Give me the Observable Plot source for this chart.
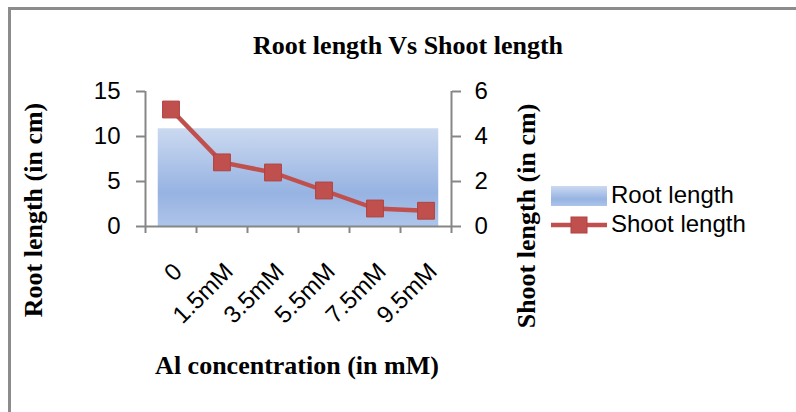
<!DOCTYPE html>
<html>
<head>
<meta charset="utf-8">
<script src="https://cdn.jsdelivr.net/npm/d3@7"></script>
<script src="https://cdn.jsdelivr.net/npm/@observablehq/plot@0.6"></script>
<style>
  html, body { margin: 0; padding: 0; background: #fff; }
  #wrap { position: relative; width: 796px; height: 412px; overflow: hidden; background: #fff; }
  #wrap svg { position: absolute; left: 0; top: 0; }
  .frame { position: absolute; left: 8px; top: 7px; right: -20px; bottom: -20px;
           border-top: 3px solid #8c8c8c; border-left: 3px solid #8c8c8c; pointer-events: none; }
  .serif { position: absolute; font-family: "Liberation Serif", "Times New Roman", serif; font-weight: bold;
           font-size: 26px; color: #000; white-space: nowrap; line-height: 1; }
  .legend { position: absolute; font-family: "Liberation Sans", Arial, sans-serif; font-size: 24px; color: #000;
            white-space: nowrap; line-height: 1; }
</style>
</head>
<body>
<div id="wrap">
  <div id="chart"></div>
  <div class="frame"></div>
</div>
<script>
// ---- data ----
const categories = ["0", "1.5mM", "3.5mM", "5.5mM", "7.5mM", "9.5mM"];
const rootLength = [10.85, 10.85, 10.85, 10.85, 10.85, 10.85];
const shootLength = [5.2, 2.85, 2.4, 1.6, 0.8, 0.7];
const leftTicks = [0, 5, 10, 15];
const rightTicks = [0, 2, 4, 6];
const title = "Root length Vs Shoot length";
const xTitle = "Al concentration (in mM)";
const yTitleLeft = "Root length (in cm)";
const yTitleRight = "Shoot length (in cm)";
const seriesNames = ["Root length", "Shoot length"];

const ratio = 15 / 6; // right axis -> left axis scale
const idx = categories.map((_, i) => i);
const bounds = d3.range(-0.5, categories.length, 1);
const areaData = [
  {x: -0.25, y: rootLength[0]},
  ...rootLength.map((v, i) => ({x: i, y: v})),
  {x: categories.length - 0.75, y: rootLength[rootLength.length - 1]}
];

const axisColor = "#868686";
const lineColor = "#c0504d";

const plot = Plot.plot({
  width: 796,
  height: 412,
  marginLeft: 145,
  marginRight: 345,
  marginTop: 91,
  marginBottom: 186,
  style: {background: "transparent", fontFamily: "Liberation Sans, Arial, sans-serif", fontSize: "24px", color: "#000", overflow: "visible"},
  x: {domain: [-0.5, categories.length - 0.5], axis: null},
  y: {domain: [0, 15], axis: null},
  marks: [
    Plot.areaY(areaData, {x: "x", y: "y", fill: "url(#rootGrad)"}),
    Plot.ruleY([0], {stroke: axisColor, strokeWidth: 2}),
    Plot.ruleX([-0.5, categories.length - 0.5], {y1: 0, y2: 15, stroke: axisColor, strokeWidth: 2}),
    Plot.axisX(bounds, {anchor: "bottom", tickSize: 7, tickFormat: () => "", stroke: axisColor, strokeWidth: 2, label: null}),
    Plot.axisY(leftTicks, {anchor: "left", tickSize: 9, tickPadding: 16, stroke: axisColor, strokeWidth: 2, fill: "#000", fontSize: 24, label: null}),
    Plot.axisY(rightTicks.map(v => v * ratio), {anchor: "right", tickSize: 9, tickPadding: 14, tickFormat: d => String(Math.round(d / ratio)), stroke: axisColor, strokeWidth: 2, fill: "#000", fontSize: 24, label: null}),
    Plot.line(idx, {x: i => i, y: i => shootLength[i] * ratio, stroke: lineColor, strokeWidth: 4.5}),
    Plot.dot(idx, {x: i => i, y: i => shootLength[i] * ratio, symbol: "square", r: 9.5, fill: lineColor, stroke: "#b0423f", strokeWidth: 1}),
    Plot.text(idx, {x: i => i, y: 0, text: i => categories[i], rotate: -45, textAnchor: "end", lineAnchor: "middle", dx: 7, dy: 41, fontSize: 24, fill: "#000"})
  ]
});

// gradient for the root-length area
const defs = d3.select(plot).insert("defs", ":first-child");
const g = defs.append("linearGradient").attr("id", "rootGrad").attr("x1", 0).attr("y1", 0).attr("x2", 0).attr("y2", 1);
g.append("stop").attr("offset", "0%").attr("stop-color", "#cbd9f0");
g.append("stop").attr("offset", "66%").attr("stop-color", "#96b3e2");
g.append("stop").attr("offset", "100%").attr("stop-color", "#aec4ea");

document.getElementById("chart").appendChild(plot);

// titles and legend (HTML, around the SVG)
const wrap = document.getElementById("wrap");
function addText(cls, text, css) {
  const d = document.createElement("div");
  d.className = cls;
  d.textContent = text;
  Object.assign(d.style, css);
  wrap.appendChild(d);
  return d;
}
addText("serif", title, {left: "408px", top: "46px", transform: "translate(-50%, -50%)"});
addText("serif", xTitle, {left: "297px", top: "366px", transform: "translate(-50%, -50%)"});
addText("serif", yTitleLeft, {left: "34px", top: "210px", transform: "translate(-50%, -50%) rotate(-90deg)"});
addText("serif", yTitleRight, {left: "527px", top: "216px", transform: "translate(-50%, -50%) rotate(-90deg)"});

// legend
const sw = document.createElement("div");
Object.assign(sw.style, {position: "absolute", left: "551px", top: "186px", width: "56px", height: "20px",
  background: "linear-gradient(to bottom, #cbd9f0 0%, #96b3e2 66%, #aec4ea 100%)"});
wrap.appendChild(sw);
const ls = d3.create("svg").attr("width", 60).attr("height", 24)
  .style("position", "absolute").style("left", "549px").style("top", "213px");
ls.append("line").attr("x1", 2).attr("x2", 58).attr("y1", 12).attr("y2", 12).attr("stroke", lineColor).attr("stroke-width", 4.5);
ls.append("rect").attr("x", 22).attr("y", 4).attr("width", 16).attr("height", 16).attr("fill", lineColor).attr("stroke", "#b0423f");
wrap.appendChild(ls.node());
addText("legend", seriesNames[0], {left: "611px", top: "195px", transform: "translateY(-50%)"});
addText("legend", seriesNames[1], {left: "611px", top: "224px", transform: "translateY(-50%)"});
</script>
</body>
</html>
